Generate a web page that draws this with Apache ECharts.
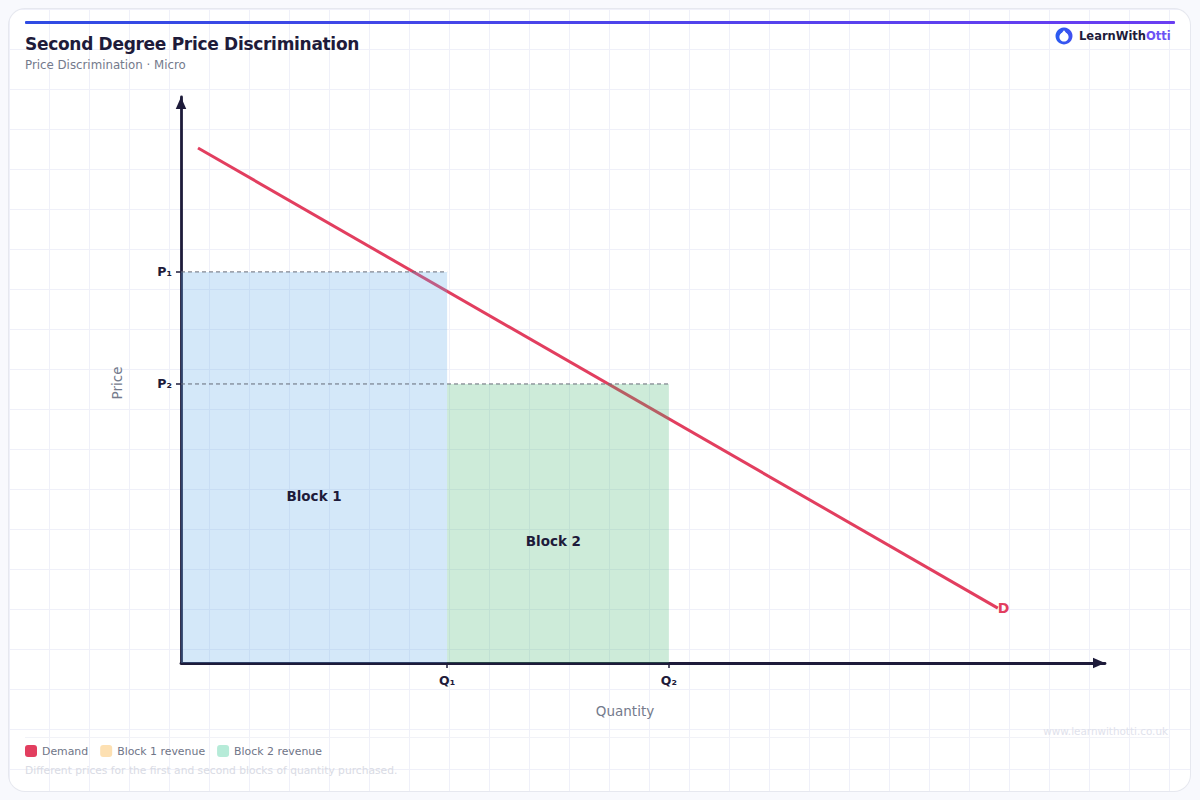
<!DOCTYPE html>
<html>
<head>
<meta charset="utf-8">
<style>
  html, body { margin: 0; padding: 0; width: 1200px; height: 800px; background: #f8f9fd; overflow: hidden; }
  #card {
    position: absolute; left: 9px; top: 9px; width: 1181px; height: 782px;
    box-sizing: content-box; background-color: #ffffff; border-radius: 16px;
    box-shadow: 0 0 0 1px #e6e8ef;
    background-image:
      linear-gradient(to right, #eff0f9 1px, transparent 1px),
      linear-gradient(to bottom, #eff0f9 1px, transparent 1px);
    background-size: 40px 40px;
    background-position: 0px 0px;
  }
  #chart { position: absolute; left: 0; top: 0; width: 1200px; height: 800px; }
  /* Tighter tracking for the 17px heading */
  #chart svg text[style*="17px"] { letter-spacing: -0.3px; }
</style>
<script src="https://cdn.jsdelivr.net/npm/echarts@6/dist/echarts.min.js"></script>
</head>
<body>
<div id="card"></div>
<div id="chart"></div>
<script>
// Quantity and price are on a 0-100 scale.
const quantityTicks = [28.8, 52.8];
const quantityTickLabels = ['Q₁', 'Q₂'];
const priceTicks = [49.3, 69.1];
const priceTickLabels = ['P₂', 'P₁'];
const demandCurve = [[1.84, 91], [88.4, 9.7]];
const block1 = [0, 28.8, 69.1];
const block2 = [28.8, 52.8, 49.3];
const block1LabelAt = [14.4, 29.55];
const block2LabelAt = [40.3, 21.55];
const priceGuide1 = [[0, 69.1], [28.8, 69.1]];
const priceGuide2 = [[0, 49.3], [52.8, 49.3]];

const font = '"DejaVu Sans", sans-serif';
const ink = '#1e1b3a';

function blockSeries(name, block, labelAt, labelText, fill) {
  return {
    name, type: 'custom', z: 5,
    coordinateSystem: 'cartesian2d',
    data: [[block[0], block[1], block[2], labelAt[0], labelAt[1]]],
    encode: { x: [0, 1], y: 2 },
    silent: true,
    renderItem(params, api) {
      const a = api.coord([api.value(0), 0]);
      const b = api.coord([api.value(1), api.value(2)]);
      const at = api.coord([api.value(3), api.value(4)]);
      return {
        type: 'group',
        children: [
          { type: 'rect', shape: { x: a[0], y: b[1], width: b[0] - a[0], height: a[1] - b[1] },
            style: { fill } },
          { type: 'text', x: at[0], y: at[1],
            style: { text: labelText, fill: ink, font: 'bold 13.5px ' + font, textAlign: 'center', textVerticalAlign: 'middle' } }
        ]
      };
    }
  };
}

function guideSeries(points) {
  return {
    type: 'line', data: points, z: 6, symbol: 'none', silent: true,
    lineStyle: { color: '#666b78', width: 1, type: [4, 3] }
  };
}

const chart = echarts.init(document.getElementById('chart'), null, { renderer: 'svg' });
chart.setOption({
  animation: false,
  backgroundColor: 'transparent',
  title: {
    text: 'Second Degree Price Discrimination',
    subtext: 'Price Discrimination · Micro',
    left: 25, top: 33, padding: 0, itemGap: 3,
    textStyle: { fontFamily: font, fontSize: 17, fontWeight: 'bold', color: ink, lineHeight: 22 },
    subtextStyle: { fontFamily: font, fontSize: 11.8, color: '#747a8c', lineHeight: 14 }
  },
  legend: {
    left: 25, top: 745, padding: 0, itemWidth: 12, itemHeight: 12, itemGap: 12,
    icon: 'roundRect', selectedMode: false,
    textStyle: { fontFamily: font, fontSize: 10.9, color: '#6f7587' },
    data: [
      { name: 'Demand', itemStyle: { color: '#e23e5f' } },
      { name: 'Block 1 revenue', itemStyle: { color: '#fde0b2' } },
      { name: 'Block 2 revenue', itemStyle: { color: '#b6ebd8' } }
    ]
  },
  grid: { left: 181, right: 95, top: 97, bottom: 137 },
  xAxis: {
    type: 'value', min: 0, max: 100,
    splitLine: { show: false },
    name: 'Quantity', nameLocation: 'middle', nameGap: 41,
    nameTextStyle: { fontFamily: font, fontSize: 13.5, color: '#747a8c', padding: [0, 36, 0, 0] },
    axisLine: { show: true, symbol: ['none', 'triangle'], symbolSize: [10.5, 12], symbolOffset: [0, -6], lineStyle: { color: ink, width: 2.8 } },
    axisTick: { show: true, length: 5, customValues: quantityTicks, lineStyle: { color: ink, width: 1.5 } },
    axisLabel: {
      customValues: quantityTicks, margin: 11,
      fontFamily: font, fontSize: 12.5, fontWeight: 'bold', color: ink,
      formatter: v => quantityTickLabels[quantityTicks.indexOf(v)] || ''
    }
  },
  yAxis: {
    type: 'value', min: 0, max: 100,
    splitLine: { show: false },
    name: 'Price', nameLocation: 'middle', nameGap: 57,
    nameTextStyle: { fontFamily: font, fontSize: 13.5, color: '#747a8c', padding: [0, 6, 0, 0] },
    axisLine: { show: true, symbol: ['none', 'triangle'], symbolSize: [10.5, 12], symbolOffset: [0, -6], lineStyle: { color: ink, width: 2.8 } },
    axisTick: { show: true, length: 5, customValues: priceTicks, lineStyle: { color: ink, width: 1.5 } },
    axisLabel: {
      customValues: priceTicks, margin: 9,
      fontFamily: font, fontSize: 12.5, fontWeight: 'bold', color: ink,
      formatter: v => priceTickLabels[priceTicks.indexOf(v)] || ''
    }
  },
  series: [
    {
      name: 'Demand', type: 'line', z: 3, symbol: 'none', silent: true,
      color: '#e23e5f',
      lineStyle: { color: '#e23e5f', width: 3 },
      endLabel: {
        show: true, distance: 0, formatter: 'D',
        fontFamily: font, fontSize: 14, fontWeight: 'bold', color: '#e23e5f'
      },
      data: demandCurve
    },
    blockSeries('Block 1 revenue', block1, block1LabelAt, 'Block 1', 'rgba(100,174,235,0.28)'),
    blockSeries('Block 2 revenue', block2, block2LabelAt, 'Block 2', 'rgba(70,180,115,0.27)'),
    guideSeries(priceGuide1),
    guideSeries(priceGuide2)
  ],
  graphic: [
    {
      type: 'rect', silent: true, shape: { x: 25, y: 21, width: 1150, height: 3, r: 1 },
      style: { fill: new echarts.graphic.LinearGradient(0, 0, 1, 0, [
        { offset: 0, color: '#2f4be3' }, { offset: 1, color: '#6a3df2' }
      ]) }
    },
    {
      type: 'rect', silent: true, shape: { x: 25, y: 737, width: 1145, height: 1 },
      style: { fill: '#f1f2f7' }
    },
    // Brand mark: ring with a droplet-shaped hole
    {
      type: 'circle', silent: true, shape: { cx: 1064, cy: 36, r: 8.5 },
      style: { fill: new echarts.graphic.LinearGradient(0, 0, 1, 0, [
        { offset: 0, color: '#2a5cf0' }, { offset: 1, color: '#4050f0' }
      ]) }
    },
    { type: 'circle', silent: true, shape: { cx: 1064, cy: 37, r: 4.6 }, style: { fill: '#ffffff' } },
    {
      type: 'polygon', silent: true,
      shape: { points: [[1064, 30.2], [1067.8, 35], [1060.2, 35]] },
      style: { fill: '#ffffff' }
    },
    {
      type: 'text', silent: true, x: 1079, y: 36,
      style: { text: 'LearnWith', font: 'bold 11.5px ' + font, fill: ink, textVerticalAlign: 'middle' }
    },
    {
      type: 'text', silent: true, x: 1146, y: 36,
      style: { text: 'Otti', font: 'bold 11.5px ' + font, fill: '#6c52f5', textVerticalAlign: 'middle' }
    },
    {
      type: 'text', silent: true, x: 1168, y: 731,
      style: { text: 'www.learnwithotti.co.uk', font: '10.4px ' + font, fill: '#dfe2ec', textAlign: 'right', textVerticalAlign: 'middle' }
    },
    {
      type: 'text', silent: true, x: 25, y: 770,
      style: { text: 'Different prices for the first and second blocks of quantity purchased.', font: '10.7px ' + font, fill: '#d9dbe4', textVerticalAlign: 'middle' }
    }
  ]
});
</script>
</body>
</html>
